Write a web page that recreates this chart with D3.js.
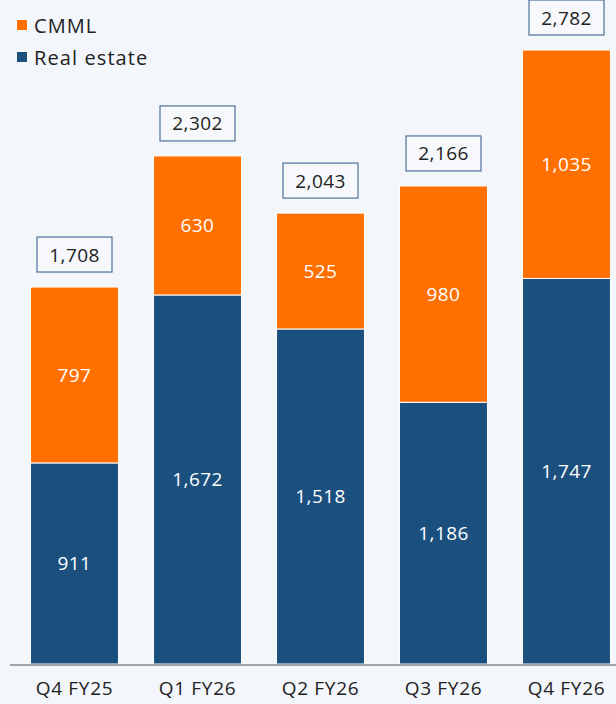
<!DOCTYPE html>
<html><head><meta charset="utf-8">
<script src="https://cdn.jsdelivr.net/npm/d3@7"></script>
<style>
html,body{margin:0;padding:0;background:#f3f6fb;}
svg{display:block;font-family:"Open Sans","Noto Sans",sans-serif;}
</style></head>
<body><svg id="c" width="616" height="704"></svg>
<script>
const categories = ["Q4 FY25","Q1 FY26","Q2 FY26","Q3 FY26","Q4 FY26"];
const realEstate = [911,1672,1518,1186,1747];
const cmml = [797,630,525,980,1035];
const totals = [1708,2302,2043,2166,2782];
const seriesNames = ["Real estate","CMML"];
const colors = {"Real estate":"#1b4f7e","CMML":"#ff7000"};

const svg = d3.select("#c");
const baseY = 664;
const x = d3.scaleBand().domain(categories).range([13,628]).paddingInner(0.285).paddingOuter(0.1425);
const y = d3.scaleLinear().domain([0,2782]).range([baseY,50]);
const fmt = d3.format(",");

const rows = categories.map((c,i)=>({cat:c,"Real estate":realEstate[i],"CMML":cmml[i],total:totals[i]}));
const stack = d3.stack().keys(seriesNames)(rows);

const g = svg.append("g");
stack.forEach(layer=>{
  const key = layer.key;
  const lg = g.append("g");
  lg.selectAll("rect").data(layer).join("rect")
    .attr("x",d=>x(d.data.cat))
    .attr("y",d=>y(d[1]))
    .attr("width",x.bandwidth())
    .attr("height",d=>y(d[0])-y(d[1]))
    .attr("fill",colors[key])
    .attr("stroke","#ffffff").attr("stroke-width",1);
  lg.selectAll("text").data(layer).join("text")
    .attr("x",d=>x(d.data.cat)+x.bandwidth()/2)
    .attr("y",d=>(y(d[0])+y(d[1]))/2)
    .attr("text-anchor","middle").attr("dominant-baseline","central")
    .attr("fill","#ffffff").attr("font-size",19).attr("letter-spacing",0.4)
    .text(d=>fmt(d.data[key]));
});

// total boxes
const tg = g.append("g");
rows.forEach(r=>{
  const cx = x(r.cat)+x.bandwidth()/2;
  const top = y(r.total);
  const bw = 75, bh = 35;
  tg.append("rect").attr("x",cx-bw/2).attr("y",top-15-bh).attr("width",bw).attr("height",bh)
    .attr("fill","#f6f8fc").attr("stroke","#4f7297").attr("stroke-width",1.2);
  tg.append("text").attr("x",cx).attr("y",top-15-bh/2)
    .attr("text-anchor","middle").attr("dominant-baseline","central")
    .attr("fill","#222").attr("font-size",19).attr("letter-spacing",0.4).text(fmt(r.total));
});

// axis
const ax = svg.append("g").attr("transform",`translate(0,${baseY+1})`)
  .call(d3.axisBottom(x).tickSize(0).tickPadding(17));
ax.select(".domain").attr("d","M10,0H616").attr("stroke","#8a8a8a").attr("stroke-width",1.5);
ax.selectAll("text").attr("font-size",19).attr("fill","#222").attr("letter-spacing",0.7)
  .attr("font-family","'Open Sans','Noto Sans',sans-serif");

// legend
const legend = svg.append("g");
const legItems = ["CMML","Real estate"];
legItems.forEach((k,i)=>{
  const ly = 25 + i*32;
  legend.append("rect").attr("x",17).attr("y",ly-5).attr("width",10).attr("height",10).attr("fill",colors[k]);
  legend.append("text").attr("x",34).attr("y",ly).attr("dominant-baseline","central")
    .attr("font-size",20).attr("letter-spacing",1.1).attr("fill","#222").text(k);
});
</script></body></html>
